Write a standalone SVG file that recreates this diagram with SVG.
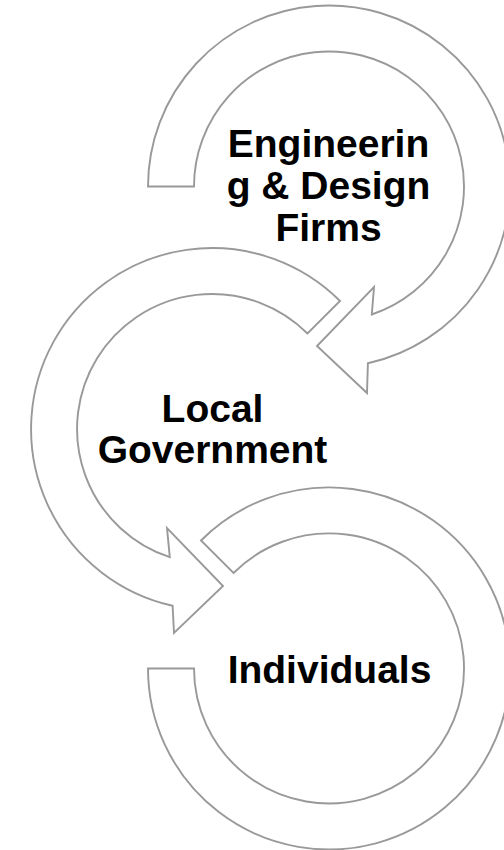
<svg xmlns="http://www.w3.org/2000/svg" width="504" height="850" viewBox="0 0 504 850">
<style>
.arrow{fill:#ffffff;stroke:#999999;stroke-width:1.9;stroke-linejoin:miter}
.lbl{font-family:"Liberation Sans",Arial,sans-serif;font-weight:bold;font-size:39px;fill:#000000;text-anchor:middle}
</style>
<rect width="504" height="850" fill="#ffffff"/>
<g id="connectors"></g>
<g id="node-individuals">
<path class="arrow" d="M148,668.5 A181,181 0 1 0 201,540.5 L233.5,573 A135,135 0 1 1 194,668.5 Z"/>
<text class="lbl" x="329.5" y="683">Individuals</text>
</g>
<g id="node-local-government">
<path class="arrow" d="M340,301 A181,181 0 1 0 172.6,605.7 L174,633 L223,586 L167,528 L169.8,557.2 A135,135 0 1 1 307.5,333.5 Z"/>
<text class="lbl" x="212.5" y="422">Local</text>
<text class="lbl" x="212.5" y="463">Government</text>
</g>
<g id="node-engineering">
<path class="arrow" d="M194,186.5 A135,135 0 1 1 371.8,314.5 L374,287 L317,346 L367,393 L367.9,363.3 A181,181 0 1 0 148,186.5 Z"/>
<text class="lbl" x="328.5" y="157">Engineerin</text>
<text class="lbl" x="328.5" y="199">g &amp; Design</text>
<text class="lbl" x="328.5" y="241">Firms</text>
</g>
</svg>
